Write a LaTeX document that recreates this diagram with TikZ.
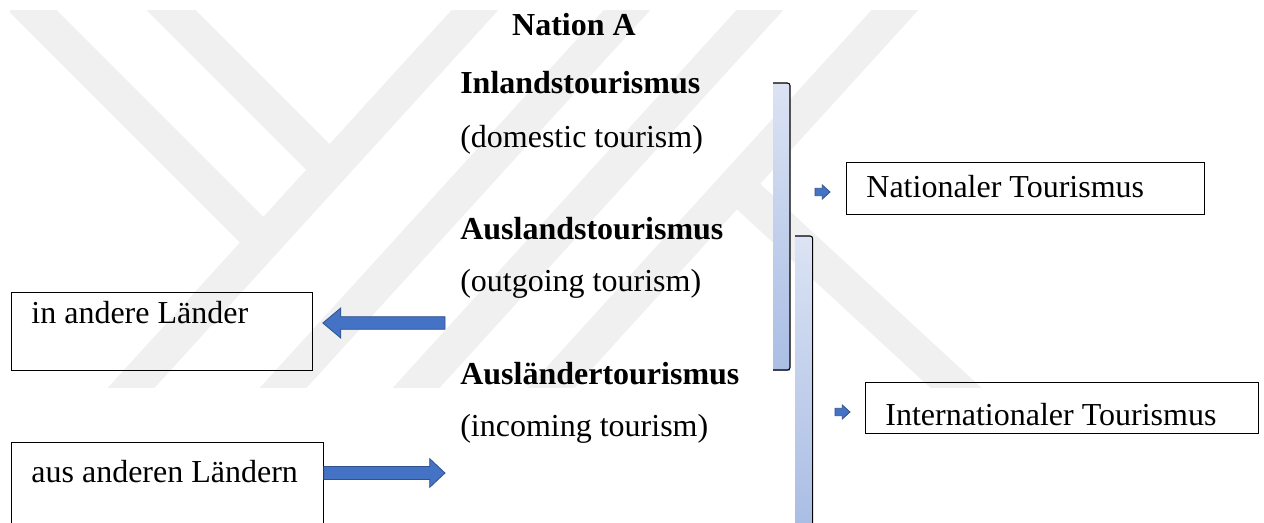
\documentclass[tikz,border=0pt]{standalone}
\usepackage{fontspec}
\setmainfont{Liberation Serif}
\usetikzlibrary{calc}
\definecolor{pfeilblau}{HTML}{4472C4}
\definecolor{pfeilrand}{HTML}{2F528F}
\definecolor{klammerhell}{HTML}{F4F6FC}
\definecolor{klammerdunkel}{HTML}{A7BBE3}
\definecolor{klammerunten}{HTML}{BCCAEA}
\definecolor{wasserzeichen}{HTML}{F0F0F0}
\pgfdeclareverticalshading{klammerfarbe}{100bp}{color(0bp)=(klammerunten); color(22bp)=(klammerdunkel); color(100bp)=(klammerhell)}
\newcommand{\blockpfeil}[5]{%
  \coordinate (kopf) at ($(#2)!#5!(#1)$);
  \filldraw[pfeil] ($(#1)!#3!90:(#2)$) -- ($(kopf)!#3!90:(#2)$) -- ($(kopf)!#4!90:(#2)$) -- (#2) -- ($(kopf)!#4!-90:(#2)$) -- ($(kopf)!#3!-90:(#2)$) -- ($(#1)!#3!-90:(#2)$) -- cycle;}
\begin{document}
\begin{tikzpicture}[x=0.75pt, y=-0.75pt, font=\fontsize{24}{29}\selectfont,
  kasten/.style={draw, line width=0.6pt, inner xsep=15pt, inner ysep=0pt, align=flush left, anchor=north west},
  titel/.style={font=\fontsize{24}{29}\selectfont\bfseries, anchor=base west, inner sep=0pt},
  zeile/.style={anchor=base west, inner sep=0pt},
  pfeil/.style={fill=pfeilblau, draw=pfeilrand, line width=0.6pt},
  klammer/.style={draw, line width=0.8pt, rounded corners=2pt},
  streifen/.style={draw=wasserzeichen, line width=26pt}]
	\useasboundingbox (0,0) rectangle (1264,522);
	\begin{scope}
		\clip (10,10) rectangle (1000,387);
		\draw[streifen] (495,-12) -- (111,410);
		\draw[streifen] (647,-12) -- (263,410);
		\draw[streifen] (780,-12) -- (396,410);
		\draw[streifen] (915,-12) -- (531,410);
		\draw[streifen] (10,-12) -- (264,242);
		\draw[streifen] (149,-12) -- (330,169);
		\draw[streifen] (736,185) -- (980,410);
	\end{scope}
	\shade[shading=klammerfarbe] (773,83) rectangle (790,370);
	\draw[klammer] (773,83) -- (790,83) -- (790,370) -- (773,370);
	\shade[shading=klammerfarbe] (795,236) rectangle (812.7,522);
	\draw[klammer] (795,236) -- (812.7,236) -- (812.7,530);
	\node[titel, anchor=base] (nation) at (574,35) {Nation A};
	\node[titel] (inland) at (460,93) {Inlandstourismus};
	\node[zeile] (inlandEn) at (460,147) {(domestic tourism)};
	\node[titel] (ausland) at (460,239) {Auslandstourismus};
	\node[zeile] (auslandEn) at (460,291) {(outgoing tourism)};
	\node[titel] (auslaender) at (460,384) {Ausländertourismus};
	\node[zeile] (auslaenderEn) at (460,436) {(incoming tourism)};
	\node[kasten, text width=238.5pt, text height=26.25pt, text depth=12.75pt] (national) at (846,162) {Nationaler Tourismus};
	\node[kasten, text width=264.75pt, text height=32.25pt, text depth=6pt] (international) at (865,382) {Internationaler Tourismus};
	\node[kasten, text width=195.75pt, text height=23.25pt, text depth=35.25pt] (andere) at (11,292) {in andere Länder};
	\node[kasten, text width=204pt, text height=30pt, text depth=40pt] (ausanderen) at (11,442) {aus anderen Ländern};
	\coordinate (ausgang) at (445,323);
	\coordinate (eingang) at (445,473);
	\coordinate (nachNational) at (815,192);
	\coordinate (nachInternational) at (835,412);
	\blockpfeil{ausgang}{$(andere.north east)+(10,31)$}{4.7pt}{11.3pt}{13.5pt}
	\blockpfeil{$(ausanderen.north east)+(0,31)$}{eingang}{4.9pt}{10.8pt}{11.5pt}
	\blockpfeil{nachNational}{$(national.north west)+(-16,30)$}{2.8pt}{5.3pt}{5.8pt}
	\blockpfeil{nachInternational}{$(international.north west)+(-15,30)$}{2.8pt}{5.3pt}{5.8pt}
\end{tikzpicture}
\end{document}
